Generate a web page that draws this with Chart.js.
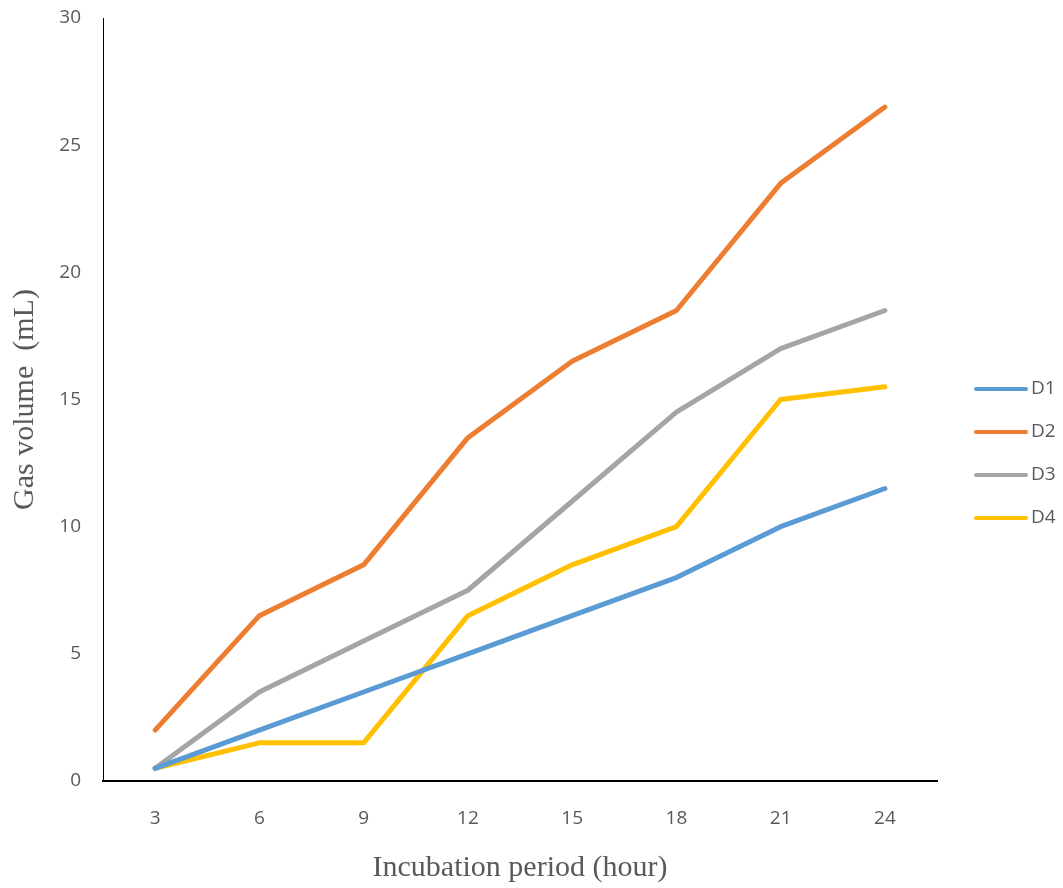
<!DOCTYPE html>
<html>
<head>
<meta charset="utf-8">
<script src="https://cdn.jsdelivr.net/npm/chart.js@4.4.0/dist/chart.umd.min.js"></script>
<style>
	html, body { margin: 0; padding: 0; background: #fff; }
	#wrap { width: 1063px; height: 888px; position: relative; }
</style>
</head>
<body>
<div id="wrap"><canvas id="lineChart"></canvas></div>
<script>
// incubation hours on the x axis
let categories = ['3', '6', '9', '12', '15', '18', '21', '24'];

// gas volume (mL) per sample
let d1 = [0.5, 2, 3.5, 5, 6.5, 8, 10, 11.5];
let d2 = [2, 6.5, 8.5, 13.5, 16.5, 18.5, 23.5, 26.5];
let d3 = [0.5, 3.5, 5.5, 7.5, 11, 14.5, 17, 18.5];
let d4 = [0.5, 1.5, 1.5, 6.5, 8.5, 10, 15, 15.5];

let seriesNames = ['D1', 'D2', 'D3', 'D4'];
let seriesColors = ['#5B9BD5', '#ED7D31', '#A5A5A5', '#FFC000'];
let yTicks = [0, 5, 10, 15, 20, 25, 30];

let textGray = '#595959';
let tickFont = { family: "'Open Sans', sans-serif", size: 19 };

// legend on the right, drawn by hand so it sits where the original has it
let sideLegend = {
	id: 'sideLegend',
	afterDraw(chart) {
		let ctx = chart.ctx;
		ctx.save();
		chart.data.datasets.forEach(function (ds, i) {
			let y = 389 + i * 43;
			ctx.strokeStyle = ds.borderColor;
			ctx.lineWidth = 4;
			ctx.lineCap = 'round';
			ctx.beginPath();
			ctx.moveTo(976, y);
			ctx.lineTo(1026, y);
			ctx.stroke();
			ctx.fillStyle = textGray;
			ctx.font = "19px 'Open Sans', sans-serif";
			ctx.textBaseline = 'middle';
			ctx.textAlign = 'left';
			ctx.fillText(ds.label, 1031, y);
		});
		ctx.restore();
	}
};

let allSeries = [d1, d2, d3, d4];
let datasets = allSeries.map(function (vals, i) {
	return {
		label: seriesNames[i],
		data: vals,
		borderColor: seriesColors[i],
		backgroundColor: seriesColors[i],
		borderWidth: 5,
		borderCapStyle: 'round',
		borderJoinStyle: 'round',
		pointRadius: 0,
		pointHoverRadius: 0,
		tension: 0,
		fill: false
	};
});

new Chart('lineChart', {
	type: 'line',
	data: { labels: categories, datasets: datasets },
	plugins: [sideLegend],
	options: {
		responsive: true,
		maintainAspectRatio: false,
		animation: false,
		layout: { padding: { top: 18, right: 126, left: 0, bottom: 0 } },
		plugins: {
			legend: { display: false },
			tooltip: { enabled: false }
		},
		scales: {
			x: {
				offset: true,
				grid: { display: false, drawTicks: false },
				border: { display: true, color: '#000', width: 2 },
				ticks: { color: textGray, font: tickFont, padding: 26, maxRotation: 0 },
				title: {
					display: true,
					text: 'Incubation period (hour)',
					color: textGray,
					font: { family: "'Liberation Serif', 'Times New Roman', serif", size: 30 },
					padding: { top: 0, bottom: 2 }
				},
				afterFit: function (s) { s.height = 107; s.paddingLeft = 0; s.paddingRight = 0; }
			},
			y: {
				min: 0,
				max: 30,
				grid: { display: false, drawTicks: false },
				border: { display: true, color: '#000', width: 1 },
				ticks: {
					color: textGray,
					font: tickFont,
					padding: 22,
					stepSize: 5,
					callback: function (v) { return yTicks.indexOf(v) >= 0 ? String(v) : ''; }
				},
				title: {
					display: true,
					text: 'Gas volume  (mL)',
					color: textGray,
					font: { family: "'Liberation Serif', 'Times New Roman', serif", size: 30 },
					padding: { top: 7, bottom: 0 }
				},
				afterFit: function (s) { s.width = 103; s.paddingTop = 0; s.paddingBottom = 0; }
			}
		}
	}
});
</script>
</body>
</html>
